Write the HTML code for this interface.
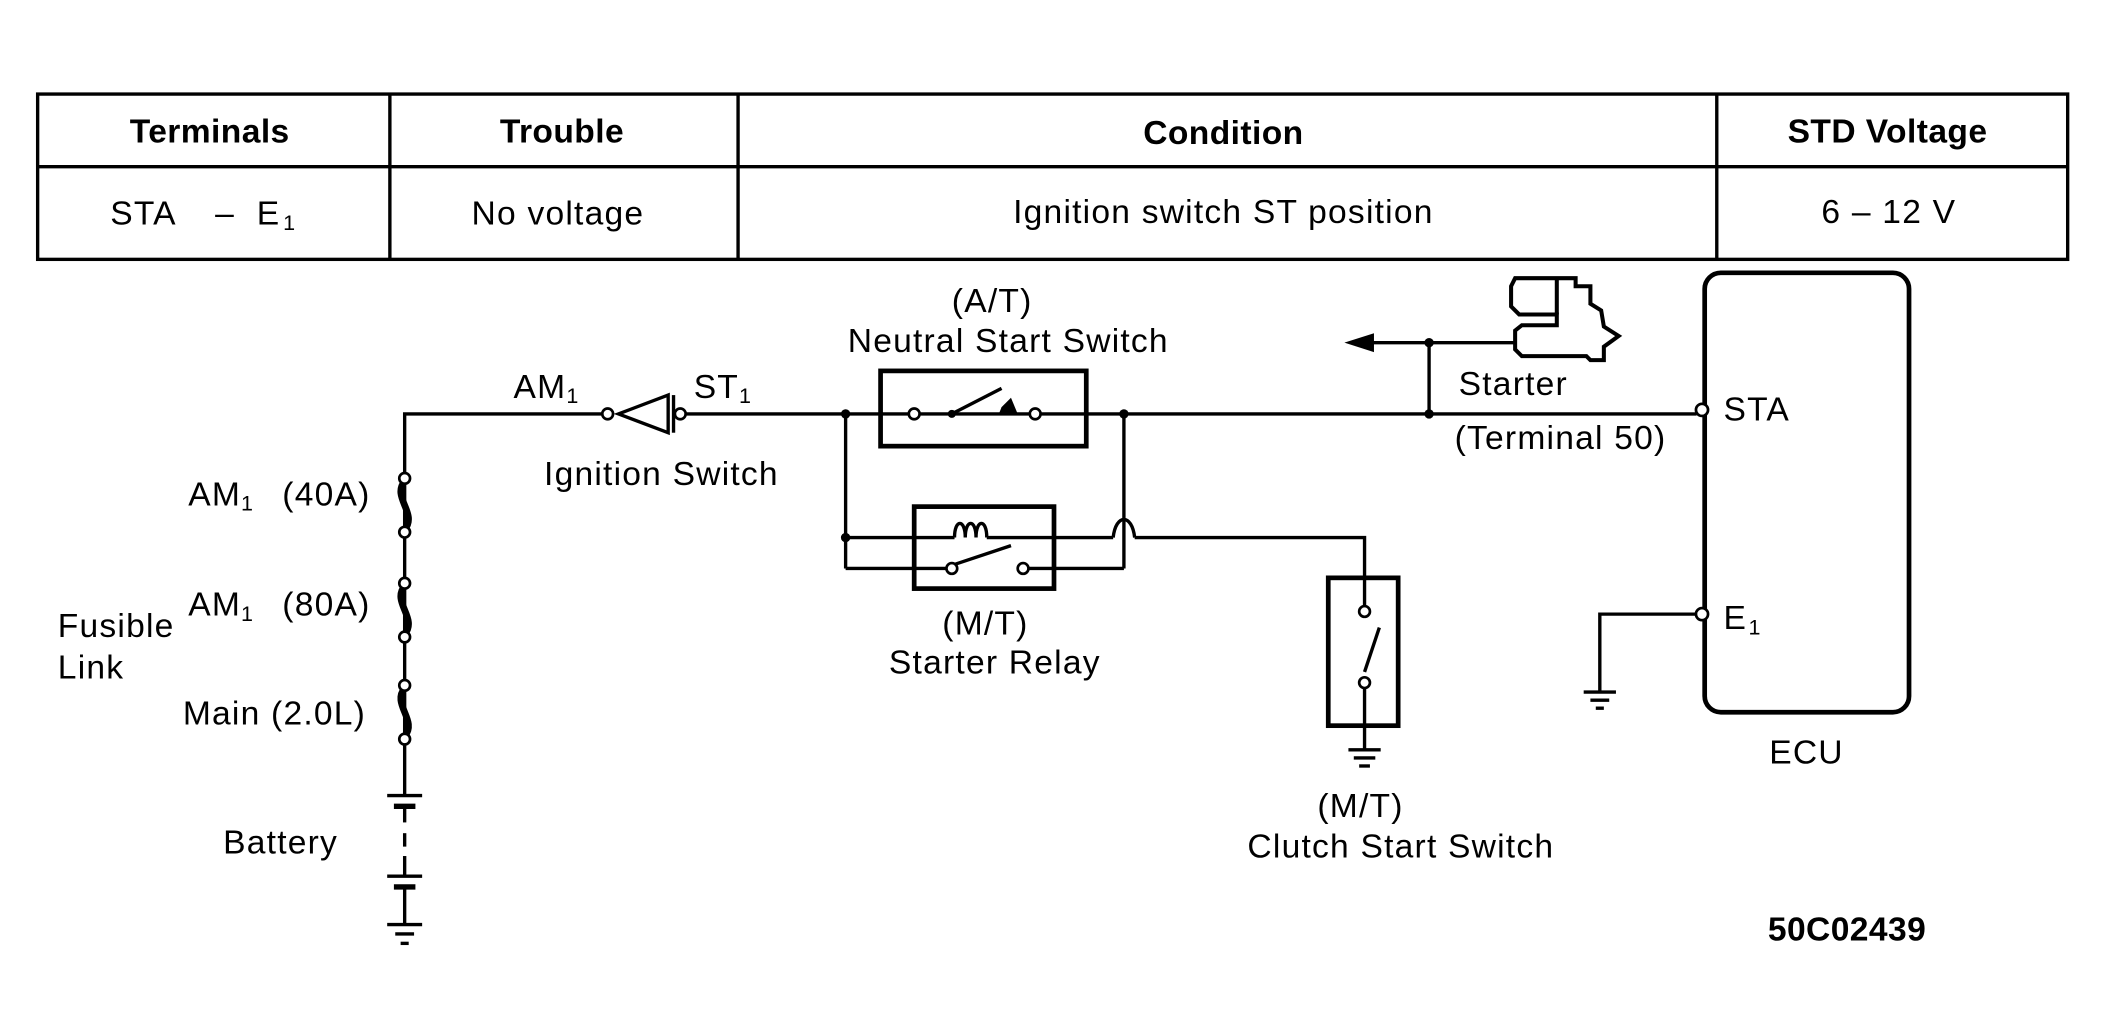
<!DOCTYPE html>
<html><head><meta charset="utf-8"><style>
html,body{margin:0;padding:0;background:#fff;}
svg{display:block;}
text{font-family:"Liberation Sans",sans-serif;font-size:25px;fill:#000;letter-spacing:0.9px;}
.b{font-weight:bold;letter-spacing:0.3px;}
tspan.s{font-size:16px;letter-spacing:0;}
</style></head><body>
<svg width="2108" height="1024" viewBox="0 0 1568 762" preserveAspectRatio="none" xmlns="http://www.w3.org/2000/svg">
<g fill="none" stroke="#000" stroke-width="2.5">
<rect x="28" y="70" width="1510" height="123"/>
<line x1="28" y1="124" x2="1538" y2="124"/>
<line x1="290" y1="70" x2="290" y2="193"/>
<line x1="549" y1="70" x2="549" y2="193"/>
<line x1="1277" y1="70" x2="1277" y2="193"/>
</g>
<g>
<text class="b" x="156" y="106" text-anchor="middle">Terminals</text>
<text class="b" x="418" y="106" text-anchor="middle">Trouble</text>
<text class="b" x="910" y="107" text-anchor="middle">Condition</text>
<text class="b" x="1404" y="106" text-anchor="middle">STD Voltage</text>
<text x="82" y="167">STA</text><text x="160" y="167">–</text><text x="191" y="167">E<tspan class="s" dx="2" dy="4">1</tspan></text>
<text x="415" y="167" text-anchor="middle">No voltage</text>
<text x="910" y="166" text-anchor="middle">Ignition switch ST position</text>
<text x="1405" y="166" text-anchor="middle">6 – 12 V</text>
</g>
<g fill="none" stroke="#000" stroke-width="2.5">
<polyline points="301,592 301,308 448,308"/>
<line x1="301" y1="600" x2="301" y2="612"/>
<line x1="301" y1="620" x2="301" y2="630"/>
<line x1="301" y1="637" x2="301" y2="652"/>
<line x1="301" y1="660" x2="301" y2="688"/>
<line x1="510" y1="308" x2="1262" y2="308"/>
<polygon points="460,308 497,294 497,322"/>
<line x1="501" y1="294" x2="501" y2="322"/>
<path d="M301,358 c-10,12 10,24 0,36" stroke-width="5"/>
<path d="M301,436 c-10,12 10,24 0,36" stroke-width="5"/>
<path d="M301,512 c-10,12 10,24 0,36" stroke-width="5"/>
<line x1="288" y1="592" x2="314" y2="592"/>
<line x1="293" y1="600" x2="309" y2="600" stroke-width="4"/>
<line x1="288" y1="652" x2="314" y2="652"/>
<line x1="293" y1="660" x2="309" y2="660" stroke-width="4"/>
<line x1="288" y1="688" x2="314" y2="688"/>
<line x1="294" y1="695" x2="308" y2="695"/>
<line x1="298" y1="702" x2="304" y2="702"/>
<rect x="655" y="276" width="153" height="56" stroke-width="3.5"/>
<line x1="708" y1="308" x2="745" y2="289"/>
<line x1="629" y1="308" x2="629" y2="423"/>
<line x1="836" y1="308" x2="836" y2="423"/>
<rect x="680" y="377" width="104" height="61" stroke-width="3.5"/>
<polyline points="629,400 710,400"/>
<path d="M710,400 c0,-14 8,-14 8,0 c0,-14 8,-14 8,0 c0,-14 8,-14 8,0"/>
<polyline points="734,400 828,400"/>
<path d="M828,400 c2,-18 14,-18 16,0"/>
<polyline points="844,400 1015,400 1015,455"/>
<polyline points="629,423 705,423"/>
<line x1="710" y1="420" x2="752" y2="406"/>
<polyline points="764,423 836,423"/>
<rect x="988" y="430" width="52" height="110" stroke-width="3.5"/>
<line x1="1015" y1="500" x2="1026" y2="467"/>
<polyline points="1015,510 1015,558"/>
<line x1="1003" y1="558" x2="1027" y2="558"/>
<line x1="1007" y1="564" x2="1023" y2="564"/>
<line x1="1011" y1="570" x2="1019" y2="570"/>
<polyline points="1018,255 1127,255"/>
<line x1="1063" y1="255" x2="1063" y2="308"/>
<path d="M1127,207 H1172 V213 H1183 V226 L1191,231 L1193,243 L1204,250 L1193,258 V268 H1183 L1180,265 H1132 L1127,260 V246 L1132,242 H1158 V234 H1130 L1124,228 V213 Z" stroke-width="3"/>
<line x1="1158" y1="207" x2="1158" y2="234" stroke-width="3"/>
<rect x="1268" y="203" width="152" height="327" rx="12" stroke-width="3.5"/>
<polyline points="1262,457 1190,457 1190,515"/>
<line x1="1178" y1="515" x2="1202" y2="515"/>
<line x1="1183" y1="521" x2="1197" y2="521"/>
<line x1="1187" y1="527" x2="1193" y2="527"/>
</g>
<polygon points="1000,255 1022,248 1022,262" fill="#000"/>
<polygon points="745,303 752,296 757,308 743,308" fill="#000"/>
<g fill="#fff" stroke="#000" stroke-width="2">
<circle cx="452" cy="308" r="4"/><circle cx="506" cy="308" r="4"/>
<circle cx="301" cy="356" r="4"/><circle cx="301" cy="396" r="4"/>
<circle cx="301" cy="434" r="4"/><circle cx="301" cy="474" r="4"/>
<circle cx="301" cy="510" r="4"/><circle cx="301" cy="550" r="4"/>
<circle cx="680" cy="308" r="4"/><circle cx="770" cy="308" r="4"/>
<circle cx="708" cy="423" r="4"/><circle cx="761" cy="423" r="4"/>
<circle cx="1015" cy="455" r="4"/><circle cx="1015" cy="508" r="4"/>
<circle cx="1266" cy="305" r="4.5"/><circle cx="1266" cy="457" r="4.5"/>
</g>
<g fill="#000">
<circle cx="629" cy="308" r="3.5"/><circle cx="836" cy="308" r="3.5"/>
<circle cx="629" cy="400" r="3.5"/><circle cx="708" cy="308" r="3"/>
<circle cx="1063" cy="255" r="3.5"/><circle cx="1063" cy="308" r="3.5"/>
</g>
<g>
<text x="382" y="296">AM<tspan class="s" dy="4">1</tspan></text>
<text x="516" y="296">ST<tspan class="s" dy="4">1</tspan></text>
<text x="492" y="361" text-anchor="middle">Ignition Switch</text>
<text x="738" y="232" text-anchor="middle">(A/T)</text>
<text x="750" y="262" text-anchor="middle">Neutral Start Switch</text>
<text x="733" y="472" text-anchor="middle">(M/T)</text>
<text x="740" y="501" text-anchor="middle">Starter Relay</text>
<text x="1085" y="294">Starter</text>
<text x="1082" y="334">(Terminal 50)</text>
<text x="1282" y="313">STA</text>
<text x="1282" y="468">E<tspan class="s" dx="1" dy="4">1</tspan></text>
<text x="1316" y="568">ECU</text>
<text x="1012" y="608" text-anchor="middle">(M/T)</text>
<text x="1042" y="638" text-anchor="middle">Clutch Start Switch</text>
<text x="43" y="474">Fusible</text>
<text x="43" y="505">Link</text>
<text x="140" y="376">AM<tspan class="s" dy="4">1</tspan></text><text x="210" y="376">(40A)</text>
<text x="140" y="458">AM<tspan class="s" dy="4">1</tspan></text><text x="210" y="458">(80A)</text>
<text x="136" y="539">Main (2.0L)</text>
<text x="166" y="635">Battery</text>
<text class="b" x="1315" y="700">50C02439</text>
</g>
</svg>
</body></html>
